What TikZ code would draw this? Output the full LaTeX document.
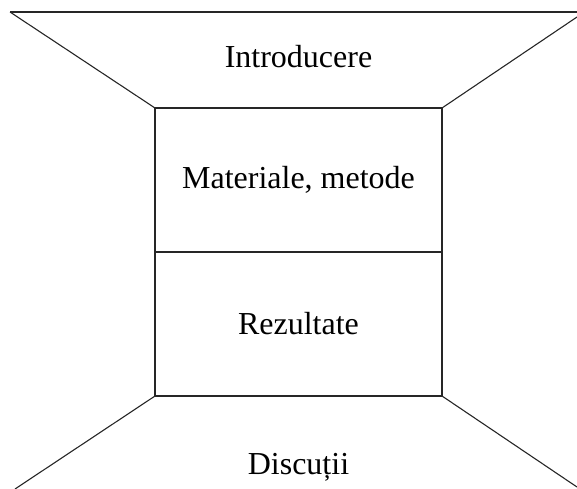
\documentclass[tikz,border=0pt]{standalone}
\usepackage{fontspec}
\setmainfont{Liberation Serif}
\begin{document}
\begin{tikzpicture}[x=1pt,y=-1pt,
  edge/.style={draw=black!85,line width=1.1pt},
  box/.style={edge,minimum width=287pt,minimum height=144pt,inner sep=0pt,outer sep=0pt},
  lbl/.style={font=\fontsize{32}{36}\selectfont,inner sep=0pt}]
\useasboundingbox (0,0) rectangle (577,488);
\clip (0,0) rectangle (577,488);
\node[box] (m) at (298.5,180) {};
\node[box] (r) at (298.5,324) {};
\node[lbl] at (m.center) {Materiale, metode};
\node[lbl] at (r.center) {Rezultate};
\coordinate (tl) at (10,12);
\coordinate (tr) at (577,12);
\coordinate (trd) at (577,17);
\coordinate (bl) at (15,489);
\coordinate (br) at (577,487);
\draw[edge] (tl) -- (tr);
\draw[edge] (tl) -- (m.north west);
\draw[edge] (m.north east) -- (trd);
\draw[edge] (r.south west) -- (bl);
\draw[edge] (r.south east) -- (br);
\node[lbl] (intro) at (298.5,57) {Introducere};
\node[lbl] (disc) at (298.5,467) {Discuții};
\end{tikzpicture}
\end{document}
